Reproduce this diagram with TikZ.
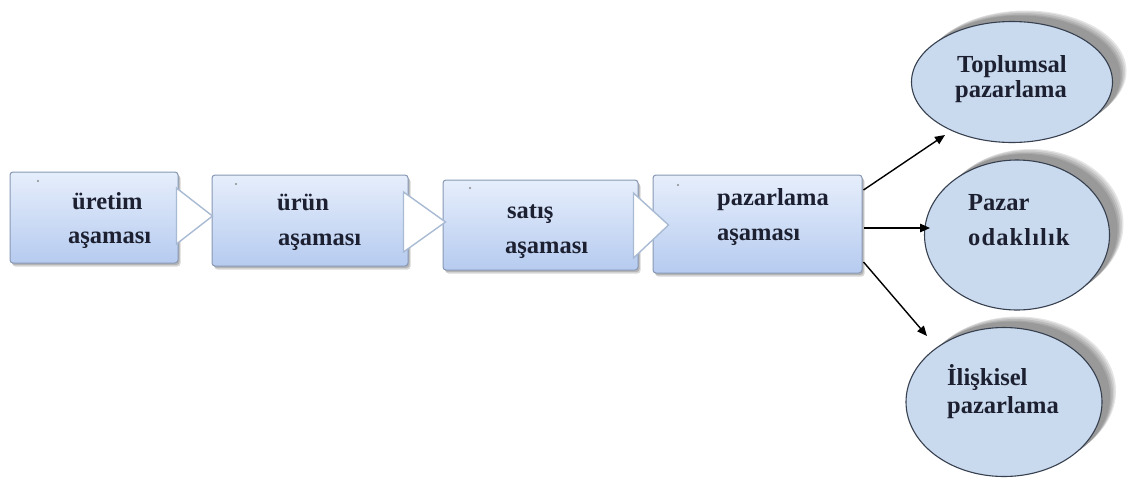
\documentclass[tikz,border=0pt]{standalone}
\usepackage{fontspec}
\setmainfont{Liberation Serif}
\usetikzlibrary{shapes.geometric,shadows,arrows.meta,calc}

\definecolor{boxtop}{HTML}{E6EEFB}
\definecolor{boxbot}{HTML}{B6CBF0}
\definecolor{boxline}{HTML}{8898B4}
\definecolor{ellfill}{HTML}{C9D9EE}
\definecolor{elline}{HTML}{37404F}
\definecolor{txt}{HTML}{1C2030}
\definecolor{tri}{HTML}{A9BAD3}

\tikzset{
  stagebox/.style={draw=boxline, line width=1pt, rounded corners=3pt,
    top color=boxtop, bottom color=boxbot, inner sep=0pt,
    drop shadow={shadow xshift=2.5pt, shadow yshift=-3.5pt, fill=black!22, opacity=0.7},
    drop shadow={shadow xshift=1.5pt, shadow yshift=-2pt, fill=black!35, opacity=0.7}},
  goal/.style={ellipse, draw=elline, line width=1.1pt, fill=ellfill, inner sep=0pt,
    drop shadow={shadow xshift=14pt, shadow yshift=11pt, fill=black!10, opacity=1},
    drop shadow={shadow xshift=12.5pt, shadow yshift=10pt, fill=black!19, opacity=1},
    drop shadow={shadow xshift=11pt, shadow yshift=8.5pt, fill=black!27, opacity=1},
    drop shadow={shadow xshift=9.5pt, shadow yshift=7pt, fill=black!34, opacity=1},
    drop shadow={shadow xshift=8pt, shadow yshift=6pt, fill=black!40, opacity=1}},
  chevron/.style={draw=tri, line width=1.4pt, fill=white, line join=miter},
  arr/.style={draw=black, line width=1.4pt, -{Triangle[length=10pt,width=8.5pt]}},
  lbl/.style={anchor=base west, inner sep=0pt, text=txt,
    font=\bfseries\fontsize{24.5}{28}\selectfont},
  speck/.style={circle, fill=black!45, inner sep=0pt, minimum size=2.4pt}
}

\begin{document}
\begin{tikzpicture}[x=1pt, y=-1pt]
\useasboundingbox (0,0) rectangle (1127,488);

% stage boxes
\node[stagebox, minimum width=168pt, minimum height=91pt] (B1) at (94,217.5) {};
\node[stagebox, minimum width=196pt, minimum height=91pt] (B2) at (310,220.5) {};
\node[stagebox, minimum width=195pt, minimum height=90pt] (B3) at (540.5,225) {};
\node[stagebox, minimum width=209pt, minimum height=98pt] (B4) at (757.5,224) {};

% bullet specks
\node[speck] (s1) at (38,181) {};
\node[speck] (s2) at (236,184) {};
\node[speck] (s3) at (470,188) {};
\node[speck] (s4) at (678,185) {};

% chevrons between the stages
\draw[chevron] ($(B1.east)+(-2,-29.5)$) -- ($(B2.west)+(1,-4.5)$) -- ($(B1.east)+(-2,26.5)$) -- cycle;
\draw[chevron] ($(B2.east)+(-5,-28.5)$) -- ($(B3.west)+(3,-3)$) -- ($(B2.east)+(-5,31.5)$) -- cycle;
\draw[chevron] ($(B3.east)+(-5,-32)$) -- ($(B4.west)+(16,1)$) -- ($(B3.east)+(-5,33)$) -- cycle;

% stage texts
\node[lbl] (t1a) at (72,209) {üretim};
\node[lbl] (t1b) at (68,243) {aşaması};
\node[lbl] (t2a) at (277,210) {ürün};
\node[lbl] (t2b) at (278,245) {aşaması};
\node[lbl] (t3a) at (507,218) {satış};
\node[lbl] (t3b) at (505,253) {aşaması};
\node[lbl] (t4a) at (717,205) {pazarlama};
\node[lbl] (t4b) at (717,240) {aşaması};

% goal ellipses
\node[goal, minimum width=201pt, minimum height=121pt] (E1) at (1012,82) {};
\node[goal, minimum width=185pt, minimum height=150pt] (E2) at (1017,235) {};
\node[goal, minimum width=196pt, minimum height=149pt] (E3) at (1004,402) {};

\node[lbl] (e1a) at (957,72) {Toplumsal};
\node[lbl] (e1b) at (955,97) {pazarlama};
\node[lbl] (e2a) at (968,210) {Pazar};
\node[lbl, font=\bfseries\fontsize{24.5}{28}\selectfont\addfontfeatures{LetterSpace=4.5}] (e2b) at (968,245) {odaklılık};
\node[lbl] (e3a) at (947,385) {İlişkisel};
\node[lbl] (e3b) at (947,413) {pazarlama};

% arrows from the last stage
\coordinate (p1) at ($(B4.east)+(1,-34)$);
\coordinate (p2) at ($(B4.east)+(1,4)$);
\coordinate (p3) at ($(B4.east)+(1,38)$);
\coordinate (q1) at (945,135);
\coordinate (q2) at (930,228);
\coordinate (q3) at (927,336);
\draw[arr] (p1) -- (q1);
\draw[arr] (p2) -- (q2);
\draw[arr] (p3) -- (q3);
\end{tikzpicture}
\end{document}
